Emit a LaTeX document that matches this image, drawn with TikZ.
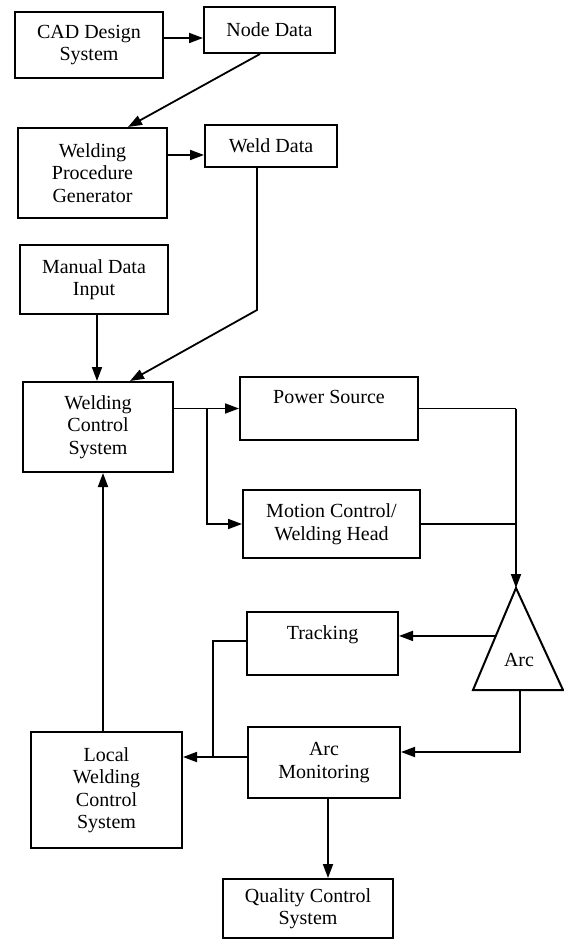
\documentclass[tikz,border=0pt]{standalone}
\usepackage{fontspec}
\setmainfont{Liberation Serif}
\usetikzlibrary{arrows.meta,calc}

\begin{document}
\begin{tikzpicture}[x=1pt,y=-1pt,
  box/.style={draw,line width=2pt,rectangle,align=center,inner sep=2pt,
    font=\fontsize{20}{22.5}\selectfont},
  arr/.style={line width=1.8pt,-{Triangle[length=14pt,width=10pt]}},
  ln/.style={line width=1.8pt}]
\useasboundingbox (0,0) rectangle (564,947);
%%%%% Boxes %%%%%
\node[box,minimum width=148pt,minimum height=66pt] (cad) at (89,45) {CAD Design\\System};
\node[box,minimum width=131pt,minimum height=46pt] (nodedata) at (269.5,30) {Node Data};
\node[box,minimum width=149pt,minimum height=90pt] (wpg) at (92.5,173) {Welding\\Procedure\\Generator};
\node[box,minimum width=132pt,minimum height=42pt] (welddata) at (271,146) {Weld Data};
\node[box,minimum width=148pt,minimum height=69pt] (mdi) at (94,279.5) {Manual Data\\Input};
\node[box,minimum width=150pt,minimum height=90pt] (wcs) at (98,427) {Welding\\Control\\System};
\node[box,minimum width=178pt,minimum height=63pt] (power) at (329,408.5) {Power Source\\~};
\node[box,minimum width=177pt,minimum height=68pt] (motion) at (331.5,524) {Motion Control/\\Welding Head};
\node[box,minimum width=151pt,minimum height=63pt] (tracking) at (322.5,643.5) {Tracking\\~};
\node[box,minimum width=152pt,minimum height=71pt] (arcmon) at (324,762.5) {Arc\\Monitoring};
\node[box,minimum width=151pt,minimum height=116pt] (lwcs) at (106.5,790) {Local\\Welding\\Control\\System};
\node[box,minimum width=170pt,minimum height=59pt] (qcs) at (308,908.5) {Quality Control\\System};
%%%%% Arc %%%%%
\coordinate (apex) at (516,588);
\coordinate (bl) at (473,690);
\coordinate (br) at (563,690);
\draw[line width=2pt,line join=miter] (apex)--(bl)--(br)--cycle;
\node[font=\fontsize{20}{22.5}\selectfont] (arc) at (519,660) {Arc};
\coordinate (arcleft) at ($(apex)!0.47!(bl)$);
\coordinate (arcbot) at (520,690);
%%%%% Connectors %%%%%
\draw[arr] (cad.east |- 0,38) -- (nodedata.west |- 0,38);
\draw[arr] (nodedata.south -| 260,0) -- (wpg.north -| 128,0);
\draw[arr] (wpg.east |- 0,155) -- (welddata.west |- 0,155);
\coordinate (wbend) at (257,310);
\draw[arr] (welddata.south -| wbend) -- (wbend) -- (wcs.north -| 130,0);
\draw[arr] (mdi.south -| 97,0) -- (wcs.north -| 97,0);
\coordinate (split) at (207,408.5);
\draw[arr] (wcs.east |- split) -- (power.west);
\draw[arr] (split) |- (motion.west);
\coordinate (join) at (516,408.5);
\draw[ln] (power.east) -- (join);
\draw[ln] (motion.east) -- (motion.east -| join);
\draw[arr] (join) -- (apex);
\draw[arr] (arcleft) -- (tracking.east |- arcleft);
\coordinate (monin) at (arcmon.east |- 0,752);
\draw[arr] (arcbot) |- (monin);
\coordinate (tjoin) at (213,757);
\draw[ln] (tracking.west |- 0,641) -| (tjoin);
\draw[arr] (arcmon.west |- tjoin) -- (lwcs.east |- tjoin);
\draw[arr] (lwcs.north -| 103,0) -- (wcs.south -| 103,0);
\draw[arr] (arcmon.south -| 328,0) -- (qcs.north -| 328,0);
\end{tikzpicture}
\end{document}
